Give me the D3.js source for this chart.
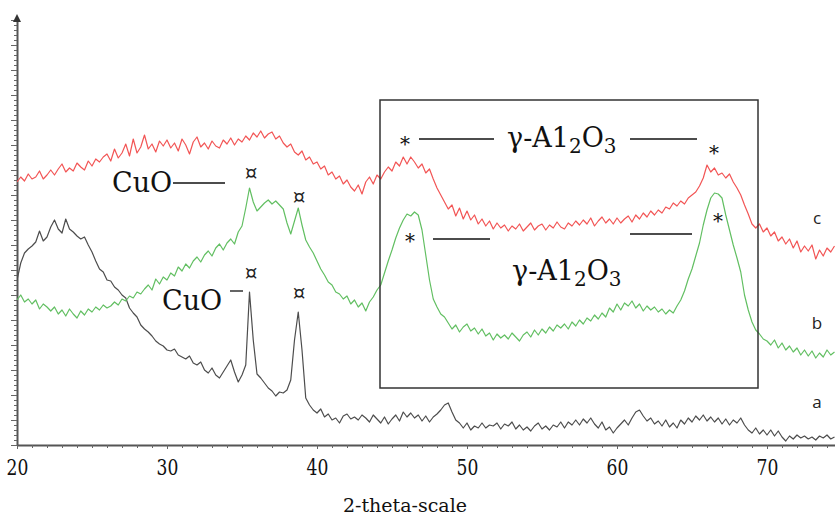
<!DOCTYPE html>
<html>
<head>
<meta charset="utf-8">
<script src="https://cdn.jsdelivr.net/npm/d3@7"></script>
<style>
  html, body { margin: 0; padding: 0; background: #fff; }
  svg { display: block; }
</style>
</head>
<body>
<div class="svg-container"></div>
<script>
// 2-theta grid (degrees), one reading every 0.25 deg
const thetaStart = 20
const thetaStep = 0.25

// sample a (black) - intensity, arbitrary units
const seriesA = [
  165, 182, 192, 196, 199, 203, 214, 204, 208, 218,
  225, 216, 212, 226, 216, 213, 209, 206, 208, 200,
  193, 184, 176, 173, 165, 164, 158, 155, 150, 147,
  137, 132, 128, 120, 116, 113, 109, 104, 101, 99,
  95, 94, 96, 90, 88, 86, 89, 82, 80, 83,
  75, 72, 77, 70, 67, 73, 79, 85, 73, 63,
  70, 80, 153, 105, 71, 67, 62, 57, 54, 49,
  53, 52, 55, 65, 105, 133, 95, 47, 40, 35,
  32, 36, 28, 31, 25, 27, 22, 29, 31, 26,
  28, 25, 30, 27, 23, 30, 26, 22, 28, 21,
  26, 30, 24, 33, 28, 32, 27, 30, 24, 29,
  23, 28, 31, 35, 40, 42, 33, 25, 22, 17,
  22, 15, 19, 17, 22, 17, 20, 19, 22, 16,
  21, 19, 23, 16, 20, 15, 18, 14, 19, 22,
  16, 19, 15, 20, 18, 23, 17, 23, 20, 25,
  20, 26, 22, 27, 21, 17, 23, 15, 18, 12,
  17, 21, 25, 20, 27, 33, 35, 29, 24, 27,
  21, 24, 19, 25, 18, 22, 17, 25, 21, 27,
  23, 29, 25, 30, 24, 28, 23, 27, 21, 26,
  20, 25, 22, 27, 20, 15, 12, 17, 11, 15,
  10, 15, 9, 14, 8, 4, 9, 6, 10, 7,
  9, 6, 8, 5, 9, 7, 10, 6, 8
]

// sample b (green)
const seriesB = [
  145, 150, 143, 146, 141, 145, 136, 141, 138, 134,
  138, 131, 135, 129, 136, 131, 127, 134, 130, 136,
  133, 138, 135, 140, 137, 139, 143, 140, 146, 144,
  149, 147, 153, 151, 156, 160, 155, 166, 161, 168,
  165, 172, 169, 178, 174, 181, 177, 184, 188, 183,
  190, 194, 189, 197, 201, 195, 202, 206, 201, 213,
  219, 237, 257, 243, 234, 238, 242, 245, 241, 244,
  240, 236, 222, 211, 224, 237, 220, 205, 198, 192,
  184, 176, 170, 163, 160, 153, 151, 146, 149, 141,
  145, 138, 142, 134, 143, 148, 155, 160, 172, 184,
  195, 207, 217, 225, 231, 229, 233, 230, 215, 190,
  165, 146, 138, 131, 128, 122, 116, 120, 113, 118,
  121, 114, 117, 111, 116, 109, 112, 105, 111, 107,
  110, 106, 112, 108, 104, 110, 113, 108, 115, 110,
  116, 112, 118, 114, 120, 117, 121, 116, 123, 119,
  125, 121, 127, 124, 130, 126, 132, 128, 137, 133,
  141, 135, 142, 139, 144, 137, 141, 134, 139, 135,
  138, 133, 136, 131, 135, 132, 139, 145, 154, 166,
  176, 189, 202, 220, 235, 247, 252, 251, 247, 230,
  215, 200, 187, 173, 150, 135, 123, 115, 111, 106,
  104, 100, 105, 97, 102, 95, 99, 93, 97, 90,
  95, 89, 94, 87, 92, 88, 95, 90, 93
]

// sample c (red)
const seriesC = [
  263, 268, 264, 271, 266, 268, 274, 266, 270, 275,
  270, 276, 281, 273, 277, 274, 282, 278, 275, 284,
  279, 286, 283, 288, 291, 284, 296, 287, 292, 301,
  289, 306, 292, 298, 310, 296, 301, 293, 304, 299,
  305, 297, 302, 294, 306, 300, 291, 303, 308, 298,
  302, 296, 304, 299, 297, 305, 301, 307, 300, 306,
  303, 309, 305, 312, 308, 314, 307, 311, 313, 306,
  309, 302, 298, 301, 293, 290, 294, 285, 288, 281,
  283, 276, 279, 270, 273, 266, 269, 261, 265, 258,
  254, 260, 251, 263, 268, 261, 270, 266, 273, 278,
  274, 283, 279, 288, 281, 288, 283, 277, 281, 272,
  276, 266, 257, 250, 243, 236, 240, 229, 237, 226,
  234, 225, 230, 221, 226, 219, 224, 216, 222, 217,
  220, 214, 219, 216, 221, 214, 218, 222, 215, 219,
  221, 215, 220, 217, 223, 218, 216, 222, 219, 224,
  220, 225, 221, 227, 219, 224, 228, 222, 226, 221,
  227, 222, 226, 229, 223, 230, 226, 232, 228, 234,
  230, 235, 232, 238, 236, 242, 239, 244, 241, 247,
  250, 253, 259, 267, 280, 273, 277, 270, 272, 267,
  271, 263, 257, 250, 240, 231, 221, 217, 221, 213,
  217, 209, 213, 204, 208, 201, 206, 197, 204, 193,
  199, 194, 200, 186, 195, 189, 197, 193, 199
]

const series = [
  { name: 'a', values: seriesA, color: '#4d4d4d' },
  { name: 'b', values: seriesB, color: '#62bf62' },
  { name: 'c', values: seriesC, color: '#f25555' }
]

const xTickLabels = [20, 30, 40, 50, 60, 70]
const xTitle = '2-theta-scale'

const serif = 'DejaVu Serif'
const sans = 'Open Sans'

const width = 835
const height = 519

const xScale = d3.scaleLinear().domain([20, 75]).range([17, 842])
const yScale = d3.scaleLinear().domain([0, 425]).range([445, 20])

const svg = d3
  .select('.svg-container')
  .append('svg')
  .attr('width', width)
  .attr('height', height)

svg
  .append('clipPath')
  .attr('id', 'plotClip')
  .append('rect')
  .attr('x', 17)
  .attr('y', 0)
  .attr('width', width - 17)
  .attr('height', 445)

// x axis: minor ticks every degree, labels every 10
const xMinor = d3
  .axisBottom(xScale)
  .tickValues(d3.range(20, 75, 1))
  .tickSize(3)
  .tickSizeOuter(0)
  .tickFormat('')

const xMajor = d3
  .axisBottom(xScale)
  .tickValues(xTickLabels)
  .tickSize(4)
  .tickSizeOuter(0)
  .tickPadding(10)

const gxMinor = svg
  .append('g')
  .attr('transform', 'translate(0,445)')
  .call(xMinor)
gxMinor.select('.domain').attr('stroke', '#555').attr('stroke-width', 2)
gxMinor.selectAll('.tick line').attr('stroke', '#666')

const gxMajor = svg
  .append('g')
  .attr('transform', 'translate(0,445)')
  .call(xMajor)
gxMajor.attr('font-family', serif).attr('font-size', 22)
gxMajor.select('.domain').remove()
gxMajor.selectAll('.tick line').attr('stroke', '#666')
gxMajor
  .selectAll('.tick text')
  .attr('fill', '#111')
  .attr('transform', 'scale(0.78,1)')

// y axis: plain tick ladder, no labels
const yMinor = d3
  .axisLeft(yScale)
  .tickValues(d3.range(0, 426, 5))
  .tickSize(3)
  .tickSizeOuter(0)
  .tickFormat('')

const yMajor = d3
  .axisLeft(yScale)
  .tickValues(d3.range(0, 426, 25))
  .tickSize(6)
  .tickSizeOuter(0)
  .tickFormat('')

const gy = svg.append('g').attr('transform', 'translate(17,0)').call(yMinor)
gy.select('.domain').attr('stroke', '#555').attr('stroke-width', 2)
gy.selectAll('.tick line').attr('stroke', '#666')

const gy2 = svg.append('g').attr('transform', 'translate(17,0)').call(yMajor)
gy2.select('.domain').remove()
gy2.selectAll('.tick line').attr('stroke', '#666')

svg
  .append('path')
  .attr('d', 'M17,14 L13,22 L21,22 Z')
  .attr('fill', '#333')

svg
  .append('text')
  .attr('x', 405)
  .attr('y', 512)
  .attr('text-anchor', 'middle')
  .attr('font-family', serif)
  .attr('font-size', 19)
  .attr('fill', '#111')
  .text(xTitle)

// curves
const line = d3
  .line()
  .x((d, i) => xScale(thetaStart + i * thetaStep))
  .y((d) => yScale(d))

svg
  .append('g')
  .attr('clip-path', 'url(#plotClip)')
  .selectAll('path')
  .data(series)
  .enter()
  .append('path')
  .attr('d', (d) => line(d.values))
  .attr('fill', 'none')
  .attr('stroke', (d) => d.color)
  .attr('stroke-width', 1.2)
  .attr('stroke-linejoin', 'round')

// curve tags
const tags = [
  { text: 'c', x: 817, y: 224 },
  { text: 'b', x: 817, y: 329 },
  { text: 'a', x: 817, y: 408 }
]
svg
  .selectAll('.tagText')
  .data(tags)
  .enter()
  .append('text')
  .attr('x', (d) => d.x)
  .attr('y', (d) => d.y)
  .attr('text-anchor', 'middle')
  .attr('font-family', sans)
  .attr('font-size', 17)
  .attr('fill', '#222')
  .text((d) => d.text)

// gamma-alumina box
svg
  .append('rect')
  .attr('x', 380)
  .attr('y', 100)
  .attr('width', 378)
  .attr('height', 288)
  .attr('fill', 'none')
  .attr('stroke', '#333')
  .attr('stroke-width', 1.5)

const annoLines = [
  [173, 183, 225, 183],
  [230, 291, 243, 291],
  [419, 139, 494, 139],
  [630, 139, 697, 139],
  [433, 239, 490, 239],
  [630, 234, 692, 234]
]
svg
  .selectAll('.annoLine')
  .data(annoLines)
  .enter()
  .append('line')
  .attr('x1', (d) => d[0])
  .attr('y1', (d) => d[1])
  .attr('x2', (d) => d[2])
  .attr('y2', (d) => d[3])
  .attr('stroke', '#111')
  .attr('stroke-width', 1.3)

function addCuO(x, y) {
  svg
    .append('text')
    .attr('x', x)
    .attr('y', y)
    .attr('font-family', serif)
    .attr('font-size', 27)
    .attr('fill', '#111')
    .text('CuO')
}
addCuO(112, 192)
addCuO(162, 310)

function addAlumina(x, y) {
  const t = svg
    .append('text')
    .attr('x', x)
    .attr('y', y)
    .attr('font-family', serif)
    .attr('font-size', 27)
    .attr('fill', '#111')
  t.append('tspan').text('γ-A1')
  t.append('tspan').attr('dy', 6).attr('font-size', 20).text('2')
  t.append('tspan').attr('dy', -6).text('O')
  t.append('tspan').attr('dy', 6).attr('font-size', 20).text('3')
}
addAlumina(507, 147)
addAlumina(512, 280)

const stars = [
  [405, 141],
  [714, 150],
  [410, 238],
  [718, 218]
]
svg
  .selectAll('.star')
  .data(stars)
  .enter()
  .append('text')
  .attr('x', (d) => d[0])
  .attr('y', (d) => d[1] + 10)
  .attr('text-anchor', 'middle')
  .attr('font-family', serif)
  .attr('font-size', 20)
  .attr('fill', '#111')
  .text('*')

const cuoMarks = [
  [251, 173],
  [299, 197],
  [251, 273],
  [299, 293]
]
svg
  .selectAll('.cuoMark')
  .data(cuoMarks)
  .enter()
  .append('text')
  .attr('x', (d) => d[0])
  .attr('y', (d) => d[1] + 7)
  .attr('text-anchor', 'middle')
  .attr('font-family', serif)
  .attr('font-size', 20)
  .attr('fill', '#222')
  .text('¤')
</script>
</body>
</html>
